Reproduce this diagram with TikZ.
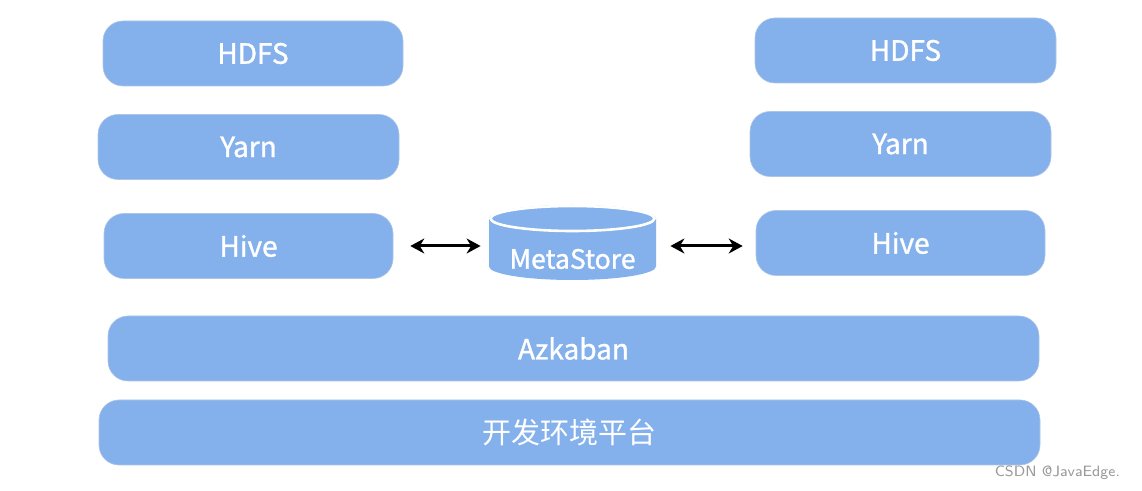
\documentclass[tikz,border=0pt]{standalone}
\usepackage{fontspec}
\setmainfont{Noto Sans CJK SC}
\newfontfamily\labelfont[FakeBold=1.2]{Noto Sans CJK SC}
\usetikzlibrary{arrows.meta}
\definecolor{layerblue}{HTML}{84B0EC}
\tikzset{
  layer/.style={fill=layerblue, draw=layerblue!90!black!60, line width=0.3pt, rounded corners=10pt,
    text=white, minimum height=32.5pt, inner sep=0pt, font=\labelfont\fontsize{14}{16}\selectfont},
  link/.style={{Stealth[length=7pt,width=7.5pt]}-{Stealth[length=7pt,width=7.5pt]}, line width=1.5pt, black}
}
\begin{document}
\begin{tikzpicture}[x=0.5pt,y=-0.5pt]
  \useasboundingbox[fill=white] (0,0) rectangle (1142,491);
  % Left cluster
  \node[layer, minimum width=150pt] (hdfsL) at (253,53.5) {HDFS};
  \node[layer, minimum width=150.5pt] (yarnL) at (248.5,147) {Yarn};
  \node[layer, minimum width=144.5pt] (hiveL) at (248.5,246) {Hive};
  % Right cluster
  \node[layer, minimum width=150.5pt] (hdfsR) at (905.5,50.5) {HDFS};
  \node[layer, minimum width=150.5pt] (yarnR) at (900.5,144) {Yarn};
  \node[layer, minimum width=144.5pt] (hiveR) at (900.5,243) {Hive};
  % Shared layers
  \node[layer, minimum width=465.5pt] (azkaban) at (573.5,348.5) {Azkaban};
  \node[layer, minimum width=470.5pt, font=\fontsize{14.5}{17}\selectfont] (platform) at (569.5,432.5) {开发环境平台};
  % Metastore: body, top face, then the label
  \fill[layerblue] (489,218.5) -- (489,266.5) arc[start angle=180, end angle=0, x radius=83.5, y radius=13.5]
    -- (656,218.5) arc[start angle=0, end angle=-180, x radius=83.5, y radius=13.5] -- cycle;
  \draw[white, line width=1.3pt] (572.5,218.5) ellipse[x radius=82, y radius=12.5];
  \node[inner sep=0pt, minimum width=83.5pt, text=white, font=\labelfont\fontsize{13.3}{15}\selectfont]
    (meta) at (572.5,259) {MetaStore};
  % Links
  \coordinate (aL) at ([xshift=8.5pt]hiveL.east);
  \coordinate (aR) at ([xshift=-6.5pt]hiveR.west);
  \draw[link] (aL) -- ([xshift=-4pt]meta.west |- aL);
  \draw[link] ([xshift=7pt]meta.east |- aL) -- (aR |- aL);
  % Watermark
  \node[text=gray!80, font=\fontsize{7.5}{8}\selectfont\sffamily, anchor=east] (mark) at (1127,473) {CSDN @JavaEdge.};
\end{tikzpicture}
\end{document}
